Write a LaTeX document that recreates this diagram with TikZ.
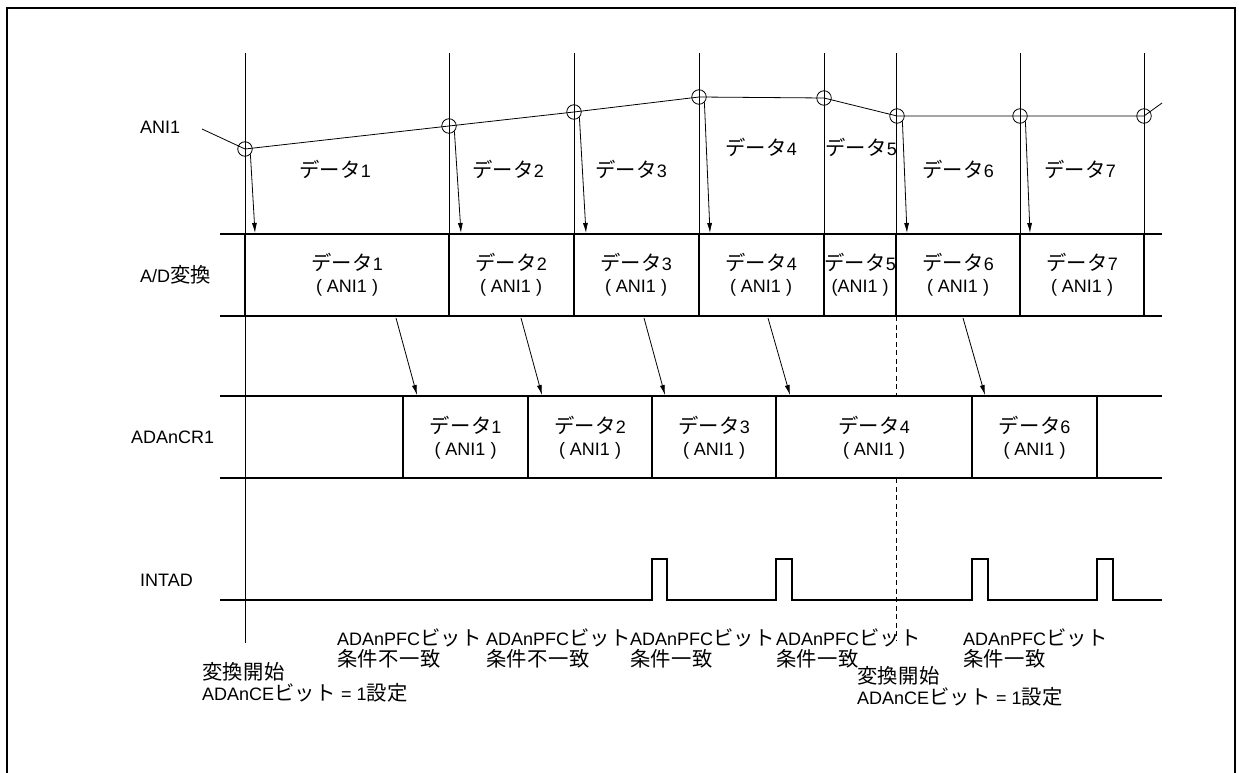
\documentclass[tikz,border=0pt]{standalone}
\usepackage{fontspec}
\setmainfont{Liberation Sans}
\newfontfamily\jp[Scale=1.13,LetterSpace=2]{Noto Sans CJK JP}
\usetikzlibrary{arrows.meta}
\newcommand{\dt}[1]{{\jp データ}#1}
\begin{document}
\begin{tikzpicture}[x=1pt,y=-1pt,
  frame/.style={line width=1.6pt},
  tline/.style={line width=0.8pt},
  bline/.style={line width=2.3pt},
  dline/.style={line width=0.9pt, dash pattern=on 5pt off 3.5pt},
  txt/.style={font=\fontsize{18}{22}\selectfont, inner sep=0pt, align=center},
  ltxt/.style={font=\fontsize{18}{21.5}\selectfont, inner sep=0pt, align=left, anchor=west},
  smp/.style={circle, draw, line width=0.8pt, minimum size=14.5pt, inner sep=0pt},
  arr/.style={-{Latex[length=10pt,width=5pt]}, line width=0.8pt}]
\useasboundingbox (0,0) rectangle (1239,773);
% frame
\draw[frame] (7,773) -- (7,8) -- (1235,8) -- (1235,773);

% time lines
\foreach \x in {449,574,699,824,896,1020,1144}{
  \draw[tline] (\x,53) -- (\x,234);
}
\draw[tline] (245,53) -- (245,643);

% left labels
\node[ltxt] (lANI) at (140,127) {ANI1};
\node[ltxt] (lAD) at (140,275) {A/D{\jp 変換}};
\node[ltxt] (lCR) at (131,437) {ADAnCR1};
\node[ltxt] (lINT) at (140,580) {INTAD};

% analog waveform and sample points
\coordinate (w0) at (202,129);
\node[smp] (c1) at (245,149) {};
\node[smp] (c2) at (449,126) {};
\node[smp] (c3) at (574,112) {};
\node[smp] (c4) at (699,97) {};
\node[smp] (c5) at (824,98) {};
\node[smp] (c6) at (897,116) {};
\node[smp] (c7) at (1020,116) {};
\node[smp] (c8) at (1144,116) {};
\coordinate (w9) at (1162,103);
\draw[tline] (w0) -- (c1.center) -- (c2.center) -- (c3.center) -- (c4.center) -- (c5.center)
  -- (c6.center) -- (c7.center) -- (c8.center) -- (w9);

% labels of analog segments
\node[txt] (d1) at (335,169) {\dt{1}};
\node[txt] (d2) at (508,169) {\dt{2}};
\node[txt] (d3) at (631,169) {\dt{3}};
\node[txt] (d4) at (761,147) {\dt{4}};
\node[txt] (d5) at (861,147) {\dt{5}};
\node[txt] (d6) at (958,169) {\dt{6}};
\node[txt] (d7) at (1080,169) {\dt{7}};

% sample arrows to A/D
\coordinate (a1) at (255,233);
\coordinate (a2) at (461,233);
\coordinate (a3) at (586,233);
\coordinate (a4) at (710,233);
\coordinate (a6) at (907,233);
\coordinate (a7) at (1030,233);
\draw[arr] (c1.south east) -- (a1);
\draw[arr] (c2.south east) -- (a2);
\draw[arr] (c3.south east) -- (a3);
\draw[arr] (c4.south east) -- (a4);
\draw[arr] (c6.south east) -- (a6);
\draw[arr] (c7.south east) -- (a7);

% A/D row
\draw[bline] (220,234) -- (1162,234);
\draw[bline] (220,316) -- (1162,316);
\foreach \x in {245,449,574,699,896,1020,1144}{
  \draw[bline] (\x,234) -- (\x,316);
}
\draw[line width=1.6pt] (824,234) -- (824,316);
\node[txt] (ad1) at (347,275) {\dt{1}\\( ANI1 )};
\node[txt] (ad2) at (511,275) {\dt{2}\\( ANI1 )};
\node[txt] (ad3) at (636,275) {\dt{3}\\( ANI1 )};
\node[txt] (ad4) at (761,275) {\dt{4}\\( ANI1 )};
\node[txt] (ad5) at (860,275) {\dt{5}\\(ANI1 )};
\node[txt] (ad6) at (958,275) {\dt{6}\\( ANI1 )};
\node[txt] (ad7) at (1082,275) {\dt{7}\\( ANI1 )};

% transfer arrows
\coordinate (t1s) at (396,318); \coordinate (t1e) at (417,395);
\coordinate (t2s) at (521,318); \coordinate (t2e) at (542,395);
\coordinate (t3s) at (644,318); \coordinate (t3e) at (665,395);
\coordinate (t4s) at (768,318); \coordinate (t4e) at (790,395);
\coordinate (t5s) at (963,318); \coordinate (t5e) at (985,395);
\foreach \i in {1,...,5}{ \draw[arr] (t\i s) -- (t\i e); }

% ADAnCR1 row
\draw[bline] (220,396) -- (1162,396);
\draw[bline] (220,478) -- (1162,478);
\foreach \x in {403,528,652,776,972,1097}{
  \draw[bline] (\x,396) -- (\x,478);
}
\node[txt] (cr1) at (465.5,437.5) {\dt{1}\\( ANI1 )};
\node[txt] (cr2) at (590,437.5) {\dt{2}\\( ANI1 )};
\node[txt] (cr3) at (714,437.5) {\dt{3}\\( ANI1 )};
\node[txt] (cr4) at (874,437.5) {\dt{4}\\( ANI1 )};
\node[txt] (cr6) at (1034.5,437.5) {\dt{6}\\( ANI1 )};

% dashed restart line
\draw[dline] (896,316) -- (896,396);
\draw[dline] (896,478) -- (896,640);

% INTAD
\draw[bline] (220,600) -- (652,600) -- (652,559) -- (667,559) -- (667,600)
  -- (776,600) -- (776,559) -- (792,559) -- (792,600)
  -- (972,600) -- (972,559) -- (988,559) -- (988,600)
  -- (1097,600) -- (1097,559) -- (1113,559) -- (1113,600) -- (1162,600);

% bottom annotations
\node[ltxt] (n1) at (337,648.5) {ADAnPFC{\jp ビット}\\{\jp 条件不一致}};
\node[ltxt] (n2) at (486,648.5) {ADAnPFC{\jp ビット}\\{\jp 条件不一致}};
\node[ltxt] (n3) at (630,648.5) {ADAnPFC{\jp ビット}\\{\jp 条件一致}};
\node[ltxt] (n4) at (776,648.5) {ADAnPFC{\jp ビット}\\{\jp 条件一致}};
\node[ltxt] (n5) at (963,648.5) {ADAnPFC{\jp ビット}\\{\jp 条件一致}};
\node[ltxt] (s1) at (202,682.5) {{\jp 変換開始}\\ADAnCE{\jp ビット} = 1{\jp 設定}};
\node[ltxt] (s2) at (857,686.5) {{\jp 変換開始}\\ADAnCE{\jp ビット} = 1{\jp 設定}};
\end{tikzpicture}
\end{document}
